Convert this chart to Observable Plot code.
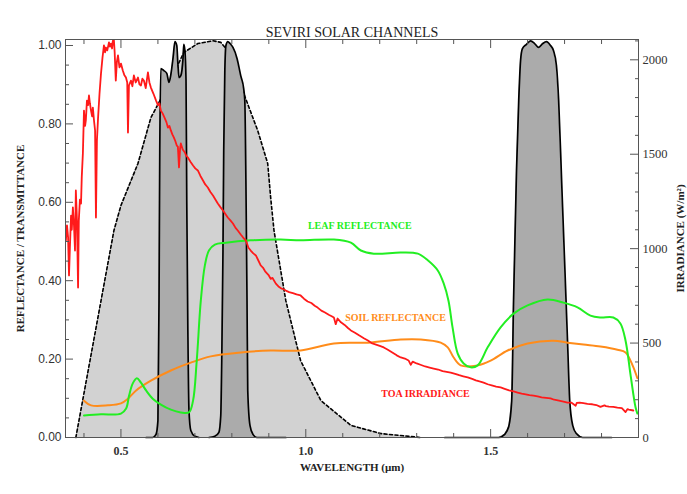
<!DOCTYPE html>
<html><head><meta charset="utf-8">
<script src="https://cdn.jsdelivr.net/npm/d3@7"></script>
<script src="https://cdn.jsdelivr.net/npm/@observablehq/plot@0.6"></script>
<style>body{margin:0;background:#fff}</style>
</head><body><div id="chart"></div>
<script>
// ---- Broad band (HRV) response, left-axis units ----
const hrvWl   = [0.378,0.481,0.500,0.546,0.581,0.603,0.640,0.670,0.708,0.749,0.770,0.784,0.832,0.870,0.897,0.905,0.914,0.946,0.986,1.041,1.122,1.203,1.310];
const hrvResp = [0,0.528,0.592,0.699,0.816,0.855,0.923,0.982,1.005,1.012,1.008,0.992,0.878,0.783,0.699,0.612,0.528,0.349,0.196,0.094,0.031,0.010,0];

// ---- Narrow channels ----
const vis06Wl   = [0.568,0.586,0.595,0.600,0.603,0.605,0.608,0.616,0.624,0.630,0.635,0.641,0.646,0.651,0.654,0.657,0.662,0.668,0.670,0.673,0.676,0.678,0.681,0.684,0.689,0.700,0.711];
const vis06Resp = [0,0,0.008,0.043,0.349,0.732,0.941,0.936,0.929,0.906,0.926,0.969,1.010,1.0,0.954,0.918,0.923,0.969,1.003,0.987,0.911,0.605,0.273,0.069,0.018,0.003,0];
const vis08Wl   = [0.738,0.754,0.765,0.770,0.773,0.776,0.778,0.781,0.784,0.789,0.795,0.803,0.814,0.824,0.832,0.835,0.838,0.841,0.843,0.849,0.857,0.868,0.946];
const vis08Resp = [0,0.003,0.013,0.056,0.222,0.477,0.732,0.936,1.0,1.010,1.005,0.995,0.967,0.923,0.890,0.860,0.656,0.349,0.120,0.031,0.008,0,0];
const ir16Wl    = [1.376,1.522,1.538,1.549,1.557,1.562,1.570,1.576,1.581,1.586,1.597,1.608,1.619,1.630,1.641,1.651,1.662,1.670,1.678,1.684,1.692,1.700,1.708,1.714,1.722,1.732,1.749,1.827];
const ir16Resp  = [0,0,0.008,0.028,0.094,0.349,0.681,0.860,0.962,0.992,1.003,1.012,1.005,0.995,1.005,1.010,1.0,0.987,0.949,0.860,0.656,0.452,0.247,0.094,0.031,0.010,0,0];

// ---- Leaf reflectance ----
const leafWl = [0.400,0.446,0.500,0.514,0.522,0.532,0.543,0.554,0.568,0.586,0.608,0.635,0.662,0.684,0.695,0.705,0.716,0.727,0.738,0.754,0.784,0.851,0.932,0.986,1.076,1.122,1.149,1.184,1.257,1.303,1.330,1.357,1.373,1.386,1.397,1.411,1.427,1.446,1.465,1.492,1.527,1.562,1.600,1.654,1.697,1.735,1.770,1.797,1.832,1.851,1.865,1.878,1.892,1.897];
const leafRefl = [0.056,0.059,0.061,0.074,0.107,0.138,0.151,0.140,0.120,0.099,0.084,0.071,0.064,0.064,0.094,0.196,0.349,0.439,0.477,0.492,0.497,0.503,0.505,0.503,0.505,0.497,0.477,0.469,0.472,0.469,0.452,0.426,0.393,0.349,0.281,0.214,0.189,0.179,0.184,0.230,0.281,0.316,0.337,0.352,0.344,0.332,0.311,0.306,0.306,0.291,0.247,0.163,0.077,0.061];

// ---- Soil reflectance ----
const soilWl = [0.400,0.419,0.465,0.500,0.519,0.541,0.581,0.635,0.689,0.743,0.824,0.905,0.986,1.076,1.168,1.257,1.311,1.365,1.384,1.400,1.419,1.465,1.500,1.546,1.600,1.670,1.708,1.751,1.797,1.843,1.865,1.884,1.897];
const soilRefl = [0.094,0.082,0.082,0.087,0.099,0.120,0.145,0.171,0.191,0.207,0.217,0.222,0.222,0.240,0.242,0.250,0.250,0.242,0.230,0.204,0.184,0.184,0.196,0.222,0.240,0.247,0.242,0.237,0.232,0.224,0.217,0.184,0.151];

// ---- TOA irradiance (W/m2) ----
const toaWl = [0.351,0.354,0.357,0.3595,0.362,0.365,0.367,0.370,0.373,0.3757,0.378,0.381,0.384,0.386,0.389,0.392,0.394,0.397,0.400,0.403,0.405,0.408,0.411,0.4135,0.416,0.419,0.422,0.424,0.427,0.430,0.4324,0.435,0.438,0.442,0.446,0.450,0.454,0.457,0.4595,0.463,0.4676,0.470,0.473,0.476,0.478,0.481,0.483,0.486,0.489,0.492,0.496,0.500,0.505,0.509,0.5135,0.517,0.519,0.5216,0.527,0.531,0.535,0.540,0.546,0.550,0.554,0.558,0.562,0.567,0.573,0.577,0.581,0.588,0.595,0.600,0.604,0.608,0.613,0.619,0.623,0.627,0.631,0.635,0.639,0.643,0.647,0.651,0.654,0.657,0.660,0.662,0.667,0.673,0.677,0.681,0.688,0.695,0.701,0.708,0.715,0.722,0.728,0.735,0.742,0.749,0.755,0.762,0.769,0.776,0.782,0.789,0.796,0.803,0.810,0.816,0.824,0.830,0.838,0.845,0.851,0.858,0.865,0.871,0.878,0.884,0.890,0.900,0.905,0.910,0.919,0.926,0.933,0.940,0.946,0.955,0.965,0.975,0.986,0.995,1.005,1.015,1.024,1.032,1.042,1.052,1.062,1.070,1.076,1.081,1.086,1.095,1.105,1.114,1.122,1.133,1.145,1.157,1.168,1.178,1.190,1.200,1.211,1.222,1.234,1.246,1.257,1.268,1.278,1.284,1.289,1.300,1.312,1.323,1.335,1.346,1.358,1.370,1.381,1.392,1.404,1.415,1.426,1.438,1.450,1.460,1.470,1.481,1.492,1.503,1.515,1.527,1.538,1.550,1.562,1.573,1.584,1.595,1.605,1.616,1.627,1.638,1.650,1.662,1.672,1.685,1.697,1.708,1.718,1.730,1.733,1.741,1.751,1.762,1.775,1.786,1.797,1.808,1.812,1.820,1.832,1.843,1.855,1.865,1.870,1.874,1.886,1.897];
const toaIrr = [1043,1123,1060,858,1010,1175,1100,1218,1120,990,1308,1150,794,1149,1260,1239,1380,1504,1731,1650,1679,1784,1760,1811,1770,1731,1700,1747,1680,1626,1165,1573,1689,1820,1927,2010,2076,2040,2065,2050,2092,2070,2086,2060,2100,2102,2040,1890,1990,2023,1960,1980,1943,1920,1906,1880,1615,1864,1890,1860,1917,1880,1906,1870,1864,1900,1890,1850,1933,1880,1853,1820,1784,1760,1770,1731,1715,1689,1670,1641,1650,1626,1605,1589,1570,1546,1540,1430,1530,1557,1525,1509,1490,1483,1460,1440,1425,1414,1385,1361,1340,1324,1300,1281,1262,1239,1220,1202,1185,1165,1150,1133,1110,1096,1075,1060,1043,1005,990,975,964,940,911,900,880,858,840,845,815,800,790,785,778,770,765,758,752,735,720,712,698,688,672,662,650,642,635,600,630,610,596,580,567,555,540,526,514,500,492,485,477,465,450,435,424,418,408,385,402,392,384,376,370,365,360,352,348,344,337,330,324,318,310,303,297,291,282,276,270,265,258,250,244,238,232,228,224,222,218,213,210,207,200,195,190,185,185,168,183,185,182,178,176,172,162,170,166,164,162,158,155,135,150,148,143];

// ---- Axis ticks & text ----
const xMajor = [0.5, 1.0, 1.5];
const xMinor = [0.4,0.6,0.7,0.8,0.9,1.1,1.2,1.3,1.4,1.6,1.7,1.8];
const yMajor = [0,0.2,0.4,0.6,0.8,1.0];
const yMinor = [0.05,0.1,0.15,0.25,0.3,0.35,0.45,0.5,0.55,0.65,0.7,0.75,0.85,0.9,0.95];
const irrMajor = [0,500,1000,1500,2000];
const irrMinor = [100,200,300,400,600,700,800,900,1100,1200,1300,1400,1600,1700,1800,1900,2100];
const labelNames = ["LEAF REFLECTANCE","SOIL REFLECTANCE","TOA IRRADIANCE"];
const labelWl = [1.146, 1.243, 1.324];
const labelY = [0.541, 0.306, 0.112];
const labelColors = ["#22ee22","#ff8c1a","#ff1a1a"];

const title = "SEVIRI SOLAR CHANNELS";
const yLeftTitle = "REFLECTANCE / TRANSMITTANCE";
const yRightTitle = "IRRADIANCE (W/m\u00b2)";
const xTitle = "WAVELENGTH (\u00b5m)";

const yTop = 1.0153, irrTop = 2107.5, k = yTop / irrTop;

const zip = (a, b, key) => a.map((w, i) => ({wl: w, v: b[i], key}));
const hrv = zip(hrvWl, hrvResp, "HRV");
const channels = [...zip(vis06Wl, vis06Resp, "VIS0.6"), ...zip(vis08Wl, vis08Resp, "VIS0.8"), ...zip(ir16Wl, ir16Resp, "IR1.6")];
const leaf = zip(leafWl, leafRefl, "leaf");
const soil = zip(soilWl, soilRefl, "soil");
const toa = zip(toaWl, toaIrr.map(v => v * k), "toa");
const labels = labelNames.map((t, i) => ({t, wl: labelWl[i], v: labelY[i], c: labelColors[i]}));

const serif = "'Liberation Serif', 'DejaVu Serif', serif";
const blank = () => "";

const chart = Plot.plot({
  width: 687, height: 494,
  marginLeft: 65, marginRight: 49, marginTop: 39, marginBottom: 57,
  x: {domain: [0.35, 1.90], axis: null},
  y: {domain: [0, yTop], axis: null},
  style: {fontFamily: serif, background: "#fff", overflow: "visible"},
  marks: [
    Plot.areaY(hrv, {x: "wl", y: "v", fill: "#d2d2d2"}),
    Plot.lineY(hrv, {x: "wl", y: "v", stroke: "#000", strokeWidth: 1.6, strokeDasharray: "3,2.5"}),
    Plot.areaY(channels, {x: "wl", y: "v", z: "key", fill: "#ababab"}),
    Plot.lineY(channels, {x: "wl", y: "v", z: "key", stroke: "#000", strokeWidth: 1.7, curve: "monotone-x"}),
    Plot.lineY(soil, {x: "wl", y: "v", stroke: "#ff8c1a", strokeWidth: 2, curve: "catmull-rom"}),
    Plot.lineY(leaf, {x: "wl", y: "v", stroke: "#22ee22", strokeWidth: 2, curve: "catmull-rom"}),
    Plot.lineY(toa, {x: "wl", y: "v", stroke: "#ff1a1a", strokeWidth: 1.8}),
    Plot.text(labels, {x: "wl", y: "v", text: "t", fill: "c", fontSize: 10, fontWeight: "bold", fontFamily: serif}),
    Plot.frame({stroke: "#555"}),
    // bottom axis
    Plot.axisX(xMajor, {anchor: "bottom", tickSize: -8, tickFormat: blank, stroke: "#555", label: null}),
    Plot.axisX(xMinor, {anchor: "bottom", tickSize: -4, tickFormat: blank, stroke: "#555", label: null}),
    Plot.axisX(xMajor, {anchor: "bottom", tickSize: 0, tickPadding: 9, tickFormat: d3.format(".1f"), fontSize: 12, fontWeight: "bold", fill: "#333", label: null}),
    // top axis
    Plot.axisX(xMajor, {anchor: "top", tickSize: -8, tickFormat: blank, stroke: "#555", label: null}),
    Plot.axisX(xMinor, {anchor: "top", tickSize: -4, tickFormat: blank, stroke: "#555", label: null}),
    // left axis
    Plot.axisY(yMajor, {anchor: "left", tickSize: -8, tickFormat: blank, stroke: "#555", label: null}),
    Plot.axisY(yMinor, {anchor: "left", tickSize: -4, tickFormat: blank, stroke: "#555", label: null}),
    Plot.axisY(yMajor, {anchor: "left", tickSize: 0, tickPadding: 4, tickFormat: d3.format(".2f"), fontSize: 12, fontFamily: "'Liberation Sans', Arial, sans-serif", fill: "#333", label: null}),
    // right axis (irradiance)
    Plot.axisY(irrMajor.map(v => v * k), {anchor: "right", tickSize: -9, tickFormat: blank, stroke: "#555", label: null}),
    Plot.axisY(irrMinor.map(v => v * k), {anchor: "right", tickSize: -4, tickFormat: blank, stroke: "#555", label: null}),
    Plot.axisY(irrMajor.map(v => v * k), {anchor: "right", tickSize: 0, tickPadding: 4, tickFormat: d => String(Math.round(d / k)), fontSize: 12.5, fill: "#333", label: null}),
    // titles
    Plot.text([title], {frameAnchor: "top", dy: -12, fontSize: 14, fill: "#222", fontFamily: serif}),
    Plot.text([yLeftTitle], {frameAnchor: "left", textAnchor: "middle", dx: -45, rotate: -90, fontSize: 11, fontWeight: "bold", fill: "#222", fontFamily: serif}),
    Plot.text([yRightTitle], {frameAnchor: "right", textAnchor: "middle", dx: 42, rotate: -90, fontSize: 11, fontWeight: "bold", fill: "#222", fontFamily: serif}),
    Plot.text([xTitle], {frameAnchor: "bottom", dy: 33, fontSize: 11, fontWeight: "bold", fill: "#222", fontFamily: serif})
  ]
});
document.getElementById("chart").appendChild(chart);
</script>
</body></html>
